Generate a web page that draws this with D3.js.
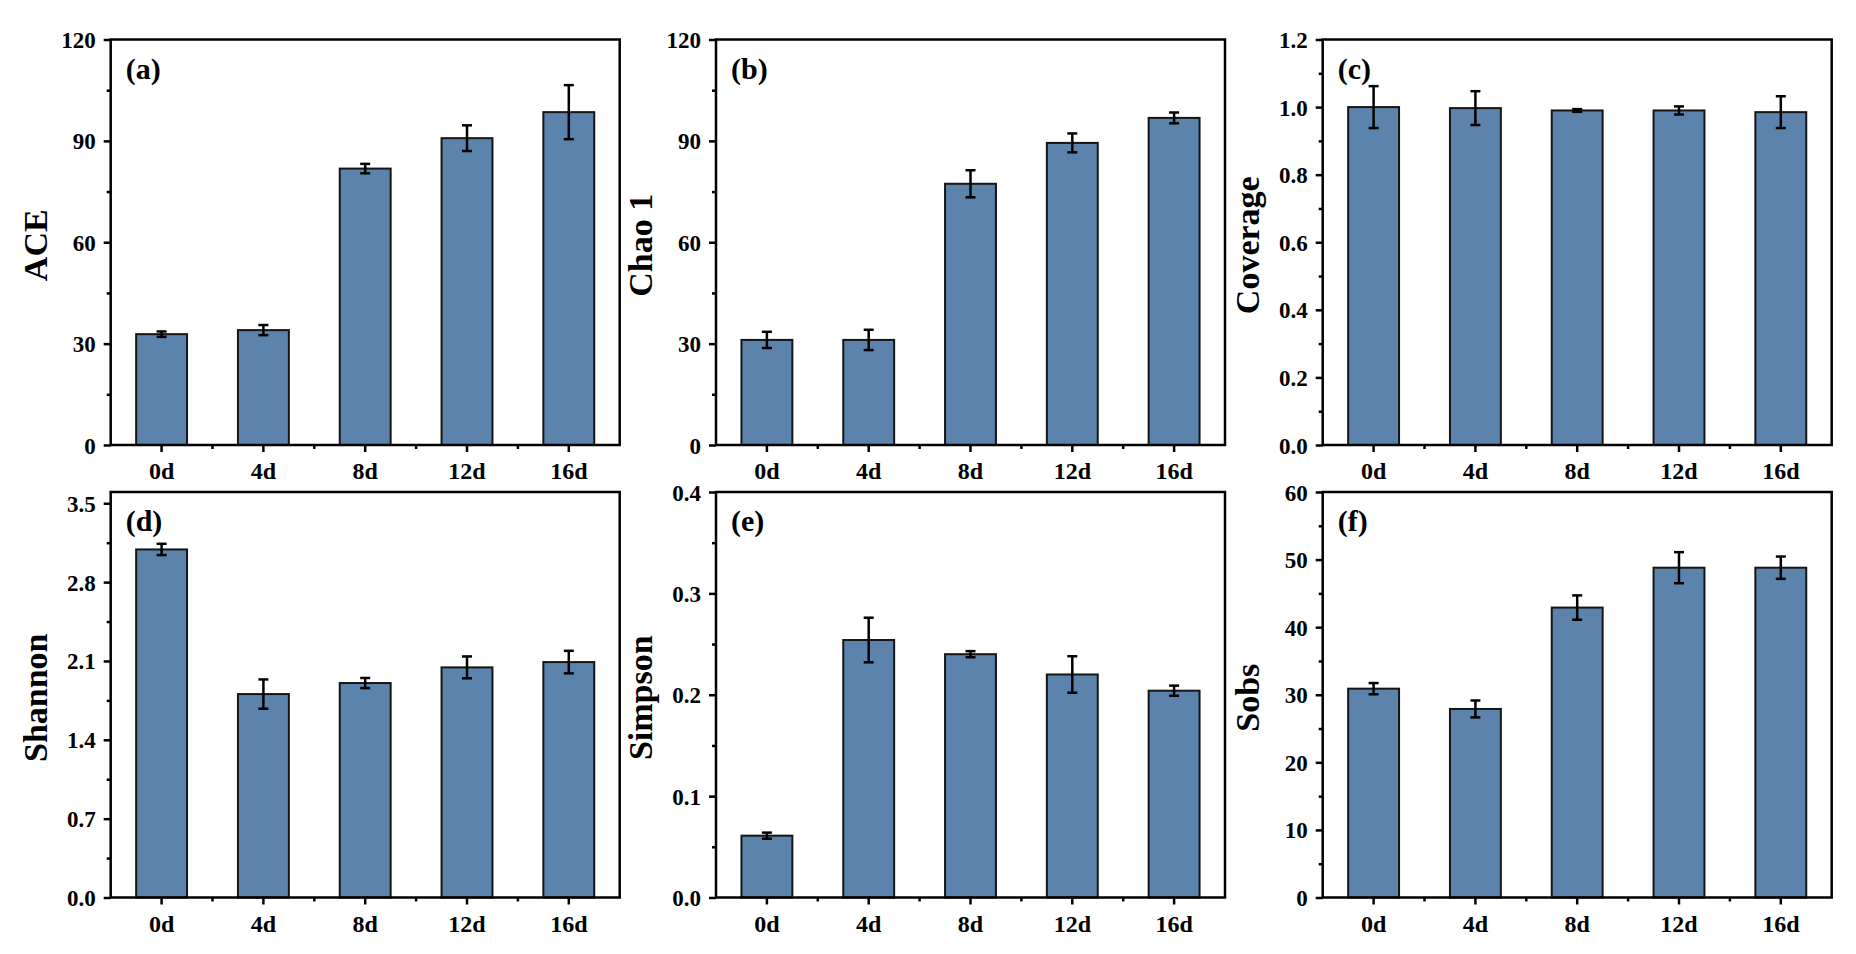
<!DOCTYPE html>
<html>
<head>
<meta charset="utf-8">
<script src="https://cdn.jsdelivr.net/npm/d3@7"></script>
<style>
  html, body { margin: 0; padding: 0; background: #fff; }
  svg { display: block; }
</style>
</head>
<body>
<svg id="chart"></svg>
<script>
// sampling days, shared by every panel
const days = ["0d", "4d", "8d", "12d", "16d"];

// values (mean and error bar half-length)
const aceMean = [32.8, 34.0, 81.8, 90.8, 98.5];
const aceErr = [0.8, 1.5, 1.4, 3.8, 8.0];
const chaoMean = [31.1, 31.1, 77.3, 89.4, 96.8];
const chaoErr = [2.4, 3.0, 4.0, 2.8, 1.6];
const coverageMean = [1.0, 0.997, 0.99, 0.99, 0.985];
const coverageErr = [0.062, 0.05, 0.004, 0.012, 0.047];
const shannonMean = [3.09, 1.806, 1.904, 2.043, 2.09];
const shannonErr = [0.05, 0.13, 0.045, 0.097, 0.1];
const simpsonMean = [0.061, 0.254, 0.240, 0.220, 0.204];
const simpsonErr = [0.003, 0.022, 0.003, 0.018, 0.005];
const sobsMean = [30.9, 27.9, 42.9, 48.8, 48.8];
const sobsErr = [0.83, 1.25, 1.8, 2.3, 1.65];

// y axis ticks
const aceTicks = [0, 30, 60, 90, 120];
const chaoTicks = [0, 30, 60, 90, 120];
const coverageTicks = [0, 0.2, 0.4, 0.6, 0.8, 1.0, 1.2];
const shannonTicks = [0, 0.7, 1.4, 2.1, 2.8, 3.5];
const simpsonTicks = [0, 0.1, 0.2, 0.3, 0.4];
const sobsTicks = [0, 10, 20, 30, 40, 50, 60];

const panels = [
  { tag: "(a)", title: "ACE", mean: aceMean, err: aceErr, ticks: aceTicks, max: 120, fmt: d3.format("d") },
  { tag: "(b)", title: "Chao 1", mean: chaoMean, err: chaoErr, ticks: chaoTicks, max: 120, fmt: d3.format("d") },
  { tag: "(c)", title: "Coverage", mean: coverageMean, err: coverageErr, ticks: coverageTicks, max: 1.2, fmt: d3.format(".1f") },
  { tag: "(d)", title: "Shannon", mean: shannonMean, err: shannonErr, ticks: shannonTicks, max: 3.6, fmt: d3.format(".1f") },
  { tag: "(e)", title: "Simpson", mean: simpsonMean, err: simpsonErr, ticks: simpsonTicks, max: 0.4, fmt: d3.format(".1f") },
  { tag: "(f)", title: "Sobs", mean: sobsMean, err: sobsErr, ticks: sobsTicks, max: 60, fmt: d3.format("d") }
];

const width = 1856;
const height = 954;
const colLeft = [110.7, 716, 1322.7];
const rowTop = [39.5, 492];
const innerWidth = 509;
const innerHeight = 405.5;
const barColor = "#5b83ac";
const lineW = 2.5;
const serif = "'Liberation Serif', 'Times New Roman', Times, serif";

const svg = d3.select("#chart").attr("width", width).attr("height", height);

function styleText(sel, size) {
  sel.attr("font-family", serif)
    .attr("font-weight", "bold")
    .attr("font-size", size)
    .attr("fill", "#000");
}

function drawPanel(p, i) {
  const g = svg.append("g")
    .attr("transform", `translate(${colLeft[i % 3]}, ${rowTop[Math.floor(i / 3)]})`);

  const x = d3.scaleBand().domain(days).range([0, innerWidth]).paddingInner(0.5).paddingOuter(0.25);
  const y = d3.scaleLinear().domain([0, p.max]).range([innerHeight, 0]);

  // minor y ticks halfway between the major ones
  const step = p.ticks[1] - p.ticks[0];
  const minor = p.ticks.map(t => t + step / 2).filter(t => t < p.max);

  const yAxis = g.append("g")
    .call(d3.axisLeft(y).tickValues(p.ticks).tickSize(7).tickPadding(8).tickFormat(p.fmt));
  yAxis.select(".domain").remove();
  yAxis.selectAll("line").attr("stroke", "#000").attr("stroke-width", lineW);
  yAxis.selectAll("text").attr("dy", null).attr("y", 8);
  styleText(yAxis.selectAll("text"), 23);

  const yMinor = g.append("g")
    .call(d3.axisLeft(y).tickValues(minor).tickSize(4).tickFormat(""));
  yMinor.select(".domain").remove();
  yMinor.selectAll("text").remove();
  yMinor.selectAll("line").attr("stroke", "#000").attr("stroke-width", lineW);

  const xAxis = g.append("g")
    .attr("transform", `translate(0, ${innerHeight})`)
    .call(d3.axisBottom(x).tickSize(7).tickPadding(9));
  xAxis.select(".domain").remove();
  xAxis.selectAll("line").attr("stroke", "#000").attr("stroke-width", lineW);
  xAxis.selectAll("text").attr("dy", null).attr("y", 34);
  styleText(xAxis.selectAll("text"), 24);

  // minor x ticks between the days
  g.selectAll(".xminor")
    .data(days.slice(1))
    .enter()
    .append("line")
    .attr("x1", d => x(d) - x.step() / 2 + x.bandwidth() / 2)
    .attr("x2", d => x(d) - x.step() / 2 + x.bandwidth() / 2)
    .attr("y1", innerHeight)
    .attr("y2", innerHeight + 4)
    .attr("stroke", "#000")
    .attr("stroke-width", lineW);

  g.selectAll(".bar")
    .data(days)
    .enter()
    .append("rect")
    .attr("x", d => x(d))
    .attr("y", (d, j) => y(p.mean[j]))
    .attr("width", x.bandwidth())
    .attr("height", (d, j) => innerHeight - y(p.mean[j]))
    .attr("fill", barColor)
    .attr("stroke", "#151515")
    .attr("stroke-width", 2);

  const eb = g.selectAll(".err")
    .data(days)
    .enter()
    .append("g")
    .attr("stroke", "#000")
    .attr("stroke-width", lineW);
  const cx = d => x(d) + x.bandwidth() / 2;
  eb.append("line")
    .attr("x1", cx).attr("x2", cx)
    .attr("y1", (d, j) => y(p.mean[j] + p.err[j]))
    .attr("y2", (d, j) => y(p.mean[j] - p.err[j]));
  eb.append("line")
    .attr("x1", d => cx(d) - 5).attr("x2", d => cx(d) + 5)
    .attr("y1", (d, j) => y(p.mean[j] + p.err[j]))
    .attr("y2", (d, j) => y(p.mean[j] + p.err[j]));
  eb.append("line")
    .attr("x1", d => cx(d) - 5).attr("x2", d => cx(d) + 5)
    .attr("y1", (d, j) => y(p.mean[j] - p.err[j]))
    .attr("y2", (d, j) => y(p.mean[j] - p.err[j]));

  // frame
  g.append("rect")
    .attr("width", innerWidth)
    .attr("height", innerHeight)
    .attr("fill", "none")
    .attr("stroke", "#000")
    .attr("stroke-width", lineW);

  styleText(g.append("text").attr("x", 15).attr("y", 39).text(p.tag), 30);

  styleText(g.append("text")
    .attr("transform", "rotate(-90)")
    .attr("x", -innerHeight / 2 - 3)
    .attr("y", -64)
    .attr("text-anchor", "middle")
    .text(p.title), 34);
}

panels.forEach(drawPanel);
</script>
</body>
</html>
